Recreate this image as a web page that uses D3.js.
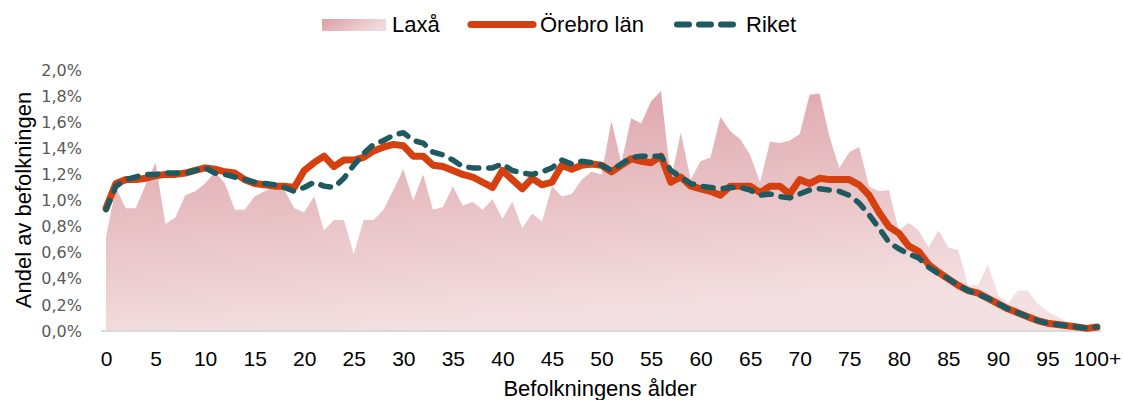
<!DOCTYPE html>
<html>
<head>
<meta charset="utf-8">
<script src="https://cdn.jsdelivr.net/npm/d3@7"></script>
<style>
  body { margin: 0; background: #fff; }
  svg { display: block; font-family: "Liberation Sans", Arial, sans-serif; }
</style>
</head>
<body>
<svg width="1123" height="400"></svg>
<script>
// ages 0..100 (100 = "100+"), values in percent of population
const ages = d3.range(0, 101);

const laxa = [
  0.72, 1.10, 0.94, 0.94, 1.12, 1.29, 0.82, 0.87, 1.04, 1.07,
  1.13, 1.22, 1.13, 0.93, 0.93, 1.03, 1.07, 1.10, 1.08, 0.94,
  0.91, 1.03, 0.77, 0.85, 0.85, 0.59, 0.85, 0.85, 0.93, 1.08,
  1.24, 1.00, 1.20, 0.93, 0.95, 1.11, 0.96, 0.99, 0.93, 1.01,
  0.86, 0.99, 0.79, 0.90, 0.84, 1.11, 1.03, 1.05, 1.16, 1.22,
  1.20, 1.61, 1.29, 1.63, 1.59, 1.76, 1.84, 1.16, 1.52, 1.16,
  1.30, 1.33, 1.64, 1.53, 1.47, 1.35, 1.14, 1.45, 1.44, 1.46,
  1.51, 1.81, 1.82, 1.49, 1.25, 1.37, 1.41, 1.11, 1.07, 1.08,
  0.77, 0.83, 0.77, 0.64, 0.77, 0.64, 0.62, 0.35, 0.35, 0.51,
  0.28, 0.21, 0.31, 0.31, 0.21, 0.15, 0.11, 0.07, 0.05, 0.04,
  0.04
];

const orebro = [
  0.94, 1.13, 1.16, 1.16, 1.17, 1.19, 1.20, 1.20, 1.21, 1.23,
  1.25, 1.24, 1.22, 1.21, 1.16, 1.13, 1.12, 1.11, 1.11, 1.10,
  1.23, 1.29, 1.34, 1.26, 1.31, 1.31, 1.33, 1.38, 1.41, 1.43,
  1.42, 1.34, 1.34, 1.27, 1.26, 1.23, 1.20, 1.18, 1.14, 1.10,
  1.23, 1.16, 1.09, 1.17, 1.12, 1.14, 1.27, 1.24, 1.27, 1.28,
  1.27, 1.22, 1.27, 1.32, 1.30, 1.29, 1.34, 1.14, 1.18, 1.11,
  1.09, 1.07, 1.04, 1.11, 1.11, 1.11, 1.06, 1.11, 1.11, 1.05,
  1.16, 1.13, 1.17, 1.16, 1.16, 1.16, 1.12, 1.04, 0.91, 0.80,
  0.75, 0.65, 0.61, 0.51, 0.45, 0.40, 0.35, 0.31, 0.29, 0.25,
  0.21, 0.17, 0.14, 0.11, 0.08, 0.06, 0.05, 0.04, 0.03, 0.02,
  0.03
];

const riket = [
  0.93, 1.11, 1.16, 1.18, 1.20, 1.20, 1.21, 1.21, 1.21, 1.23,
  1.25, 1.21, 1.20, 1.18, 1.16, 1.14, 1.13, 1.12, 1.10, 1.07,
  1.10, 1.14, 1.11, 1.10, 1.17, 1.27, 1.36, 1.43, 1.46, 1.50,
  1.52, 1.46, 1.44, 1.37, 1.35, 1.31, 1.26, 1.25, 1.25, 1.25,
  1.28, 1.23, 1.21, 1.20, 1.22, 1.25, 1.31, 1.28, 1.30, 1.29,
  1.27, 1.23, 1.28, 1.33, 1.34, 1.34, 1.34, 1.23, 1.18, 1.13,
  1.11, 1.10, 1.09, 1.10, 1.10, 1.08, 1.04, 1.05, 1.03, 1.02,
  1.05, 1.08, 1.09, 1.08, 1.07, 1.04, 0.98, 0.89, 0.79, 0.68,
  0.63, 0.59, 0.56, 0.49, 0.44, 0.40, 0.35, 0.31, 0.28, 0.25,
  0.21, 0.17, 0.14, 0.11, 0.08, 0.06, 0.05, 0.04, 0.03, 0.02,
  0.03
];

const xTicks = d3.range(0, 101, 5);
const yTicks = d3.range(0, 11).map((k) => k * 0.2);
const seriesNames = ["Laxå", "Örebro län", "Riket"];

const svg = d3.select("svg");

const x = d3.scaleLinear().domain([0, 100]).range([106, 1097]);
const y = d3.scaleLinear().domain([0, 2]).range([331, 70]);

// gradient for the Laxå area
const defs = svg.append("defs");
const grad = defs.append("linearGradient")
  .attr("id", "laxaGrad")
  .attr("x1", 0).attr("y1", 0).attr("x2", 0.3).attr("y2", 1);
grad.append("stop").attr("offset", "0%").attr("stop-color", "#dc9ea4");
grad.append("stop").attr("offset", "100%").attr("stop-color", "#f3e0e2");

const legGrad = defs.append("linearGradient")
  .attr("id", "legGrad")
  .attr("x1", 0).attr("y1", 0).attr("x2", 1).attr("y2", 0.3);
legGrad.append("stop").attr("offset", "0%").attr("stop-color", "#dc9ea4");
legGrad.append("stop").attr("offset", "100%").attr("stop-color", "#f1dadc");

// area
const area = d3.area()
  .x((d, i) => x(ages[i]))
  .y0(y(0))
  .y1((d) => y(d));

svg.append("path")
  .datum(laxa)
  .attr("d", area)
  .attr("fill", "url(#laxaGrad)");

// baseline
svg.append("line")
  .attr("x1", 101).attr("x2", 1101)
  .attr("y1", y(0)).attr("y2", y(0))
  .attr("stroke", "#d9d9d9")
  .attr("stroke-width", 2);

const line = d3.line()
  .x((d, i) => x(ages[i]))
  .y((d) => y(d));

svg.append("path")
  .datum(orebro)
  .attr("d", line)
  .attr("fill", "none")
  .attr("stroke", "#d6400e")
  .attr("stroke-width", 7)
  .attr("stroke-linejoin", "round")
  .attr("stroke-linecap", "round");

svg.append("path")
  .datum(riket)
  .attr("d", line)
  .attr("fill", "none")
  .attr("stroke", "#1f5a60")
  .attr("stroke-width", 5.5)
  .attr("stroke-dasharray", "10,10")
  .attr("stroke-linejoin", "round")
  .attr("stroke-linecap", "round");

// x axis
const xAxis = svg.append("g")
  .attr("transform", `translate(0,${y(0)})`)
  .call(d3.axisBottom(x)
    .tickValues(xTicks)
    .tickSize(0)
    .tickPadding(20)
    .tickFormat((d) => (d === 100 ? "100+" : d)));
xAxis.select(".domain").remove();
xAxis.selectAll("text")
  .attr("font-family", "'Liberation Sans', Arial, sans-serif")
  .attr("font-size", 21)
  .attr("fill", "#000");

// y axis
const yAxis = svg.append("g")
  .attr("transform", "translate(82,0)")
  .call(d3.axisLeft(y)
    .tickValues(yTicks)
    .tickSize(0)
    .tickPadding(0)
    .tickFormat((d) => d.toFixed(1).replace(".", ",") + "%"));
yAxis.select(".domain").remove();
yAxis.selectAll("text")
  .attr("font-family", "'DejaVu Sans', sans-serif")
  .attr("font-size", 16)
  .attr("fill", "#595959");

// axis titles
svg.append("text")
  .attr("x", 600)
  .attr("y", 396)
  .attr("text-anchor", "middle")
  .attr("font-size", 22)
  .attr("fill", "#000")
  .text("Befolkningens ålder");

svg.append("text")
  .attr("transform", "translate(31,200) rotate(-90)")
  .attr("text-anchor", "middle")
  .attr("font-size", 22)
  .attr("fill", "#000")
  .text("Andel av befolkningen");

// legend
const legend = svg.append("g");
legend.append("rect")
  .attr("x", 322).attr("y", 19)
  .attr("width", 64).attr("height", 12)
  .attr("fill", "url(#legGrad)");
legend.append("line")
  .attr("x1", 471).attr("x2", 533)
  .attr("y1", 24.5).attr("y2", 24.5)
  .attr("stroke", "#d6400e")
  .attr("stroke-width", 7)
  .attr("stroke-linecap", "round");
legend.append("line")
  .attr("x1", 677).attr("x2", 733)
  .attr("y1", 24.5).attr("y2", 24.5)
  .attr("stroke", "#1f5a60")
  .attr("stroke-width", 6)
  .attr("stroke-dasharray", "12,10")
  .attr("stroke-linecap", "round");

const legendX = [392, 540, 746];
seriesNames.forEach((name, i) => {
  legend.append("text")
    .attr("x", legendX[i])
    .attr("y", 32)
    .attr("font-size", 22)
    .attr("fill", "#000")
    .text(name);
});
</script>
</body>
</html>
